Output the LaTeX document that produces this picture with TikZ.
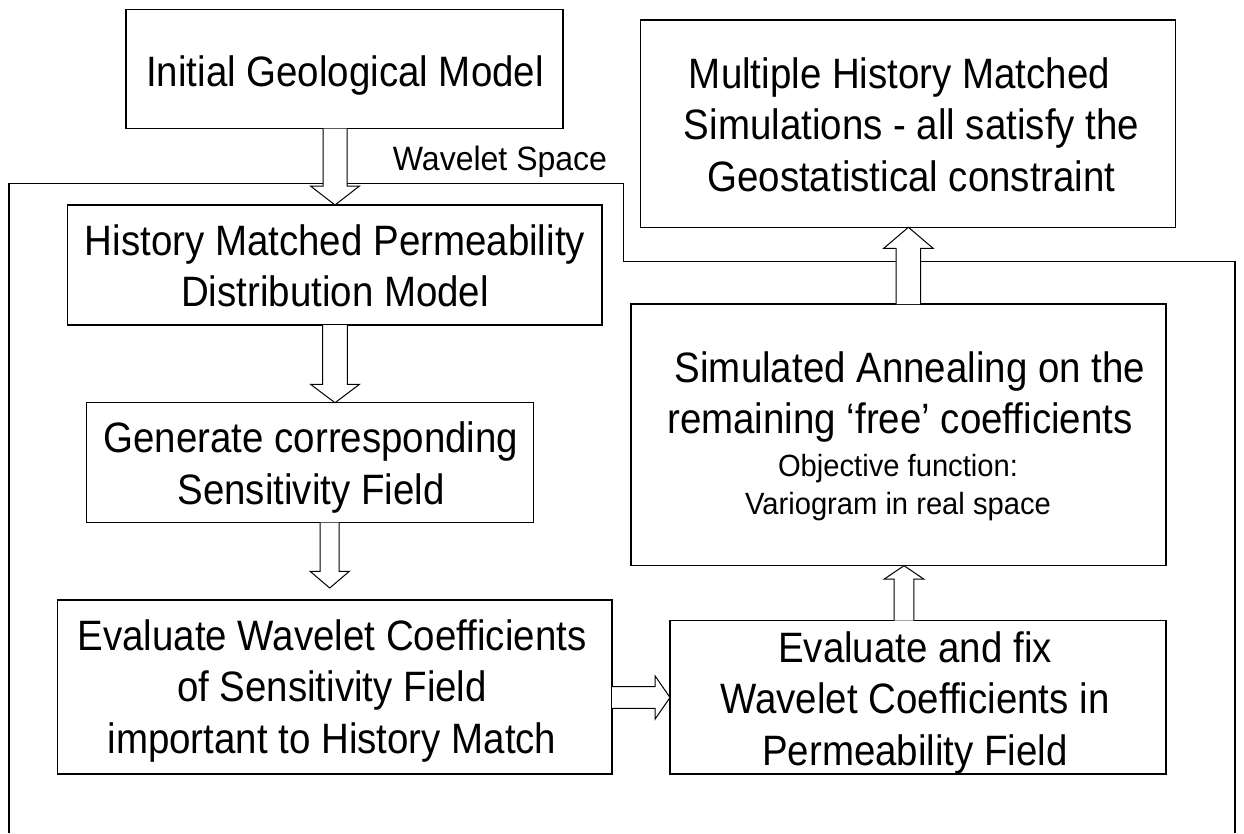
\documentclass[tikz,border=0pt]{standalone}
\usepackage{fontspec}
\setmainfont{Liberation Sans}
\newfontfamily\condfont[FakeStretch=0.905]{Liberation Sans}
\newfontfamily\condsmall[FakeStretch=0.95]{Liberation Sans}
\usetikzlibrary{calc}
\newcommand\blockarr[5]{%
  \path ($(#2)!#5!(#1)$) coordinate (hb);
  \draw[blockarrow] ($(#1)!#3!90:(#2)$) -- ($(hb)!#3!90:(#2)$) -- ($(hb)!#4!90:(#2)$) -- (#2) -- ($(hb)!#4!-90:(#2)$) -- ($(hb)!#3!-90:(#2)$) -- ($(#1)!#3!-90:(#2)$);}
\begin{document}
\begin{tikzpicture}[x=1pt,y=-1pt,
  box/.style={draw=black, line width=1.2pt, inner sep=0pt, outer sep=0pt},
  big/.style={inner sep=0pt, anchor=north, align=center, font=\condfont\fontsize{42.5}{51.5}\selectfont},
  small/.style={inner sep=0pt, anchor=north, align=center, font=\condsmall\fontsize{30.7}{38.3}\selectfont},
  blockarrow/.style={draw=black, line width=1pt, fill=white, line join=miter},
  region/.style={draw=black, line width=1.3pt}]
\fill[white] (0,0) rectangle (1244,833);
\useasboundingbox (0,0) rectangle (1244,833);

% wavelet space region
\draw[region] (9,833) -- (9,183.5) -- (623.5,183.5) -- (623.5,261.5) -- (1235,261.5) -- (1235,833);
\node[inner sep=0pt, anchor=base, font=\condsmall\fontsize{33.7}{40}\selectfont] (ws) at (500,170) {Wavelet Space};

% boxes
\node[box, minimum width=437pt, minimum height=119.4pt] (init) at (344.5,69) {};
\node[box, minimum width=534.7pt, minimum height=120pt] (hist) at (334.7,265) {};
\node[box, minimum width=447pt, minimum height=120pt] (gen) at (310,462.7) {};
\node[box, minimum width=554.5pt, minimum height=174pt] (eval) at (334.75,687) {};
\node[box, minimum width=496pt, minimum height=153.3pt] (ef) at (918,697.35) {};
\node[box, minimum width=535pt, minimum height=261.7pt] (sa) at (898.5,434.85) {};
\node[box, minimum width=535pt, minimum height=207.3pt] (mult) at (908.2,123.65) {};

% texts
\node[big] (initt) at (345,49.95) {\strut Initial Geological Model};
\node[big] (histt) at (335,218.95) {\strut History Matched Permeability\\\strut Distribution Model};
\node[big] (gent) at (311,416.45) {\strut Generate corresponding\\\strut Sensitivity Field};
\node[big] (evalt) at (332,613.95) {\strut Evaluate Wavelet Coefficients\\\strut of Sensitivity Field\\\strut important to History Match};
\node[big] (eft) at (915,626.05) {\strut Evaluate and fix\\\strut Wavelet Coefficients in\\\strut Permeability Field};
\node[big] (multt) at (911.5,51.95) {\strut Multiple History Matched\hspace{24pt}\mbox{}\\\strut Simulations - all satisfy the\\\strut Geostatistical constraint};
\node[big] (sat) at (900,345.95) {\strut\mbox{}\hspace{20pt}Simulated Annealing on the\\\strut remaining ‘free’ coefficients};
\node[small] (sas) at (898,449.2) {\strut Objective function:\\\strut Variogram in real space};

% arrows
\coordinate (c1) at (335,0);
\coordinate (c3) at (329.7,0);
\coordinate (r4) at (0,697.5);
\coordinate (c5) at (904,0);
\coordinate (c6) at (908.4,0);
\coordinate (a1s) at (init.south -| c1);
\coordinate (a1e) at (hist.north -| c1);
\coordinate (a2s) at (hist.south -| c1);
\coordinate (a2e) at (gen.north -| c1);
\coordinate (a3s) at (gen.south -| c3);
\coordinate (a3e) at ($(eval.north -| c3)+(0,-12)$);
\coordinate (a4s) at (eval.east |- r4);
\coordinate (a4e) at (ef.west |- r4);
\coordinate (a5s) at (ef.north -| c5);
\coordinate (a5e) at (sa.south -| c5);
\coordinate (a6s) at (sa.north -| c6);
\coordinate (a6e) at (mult.south -| c6);
\blockarr{a1s}{a1e}{12pt}{24.5pt}{19pt}
\blockarr{a2s}{a2e}{12.3pt}{24.5pt}{18.4pt}
\blockarr{a3s}{a3e}{9.5pt}{19.5pt}{16.6pt}
\blockarr{a4s}{a4e}{10.8pt}{21.7pt}{15pt}
\blockarr{a5s}{a5e}{9.9pt}{19.7pt}{13.3pt}
\blockarr{a6s}{a6e}{12.3pt}{24.7pt}{21pt}
\end{tikzpicture}
\end{document}
